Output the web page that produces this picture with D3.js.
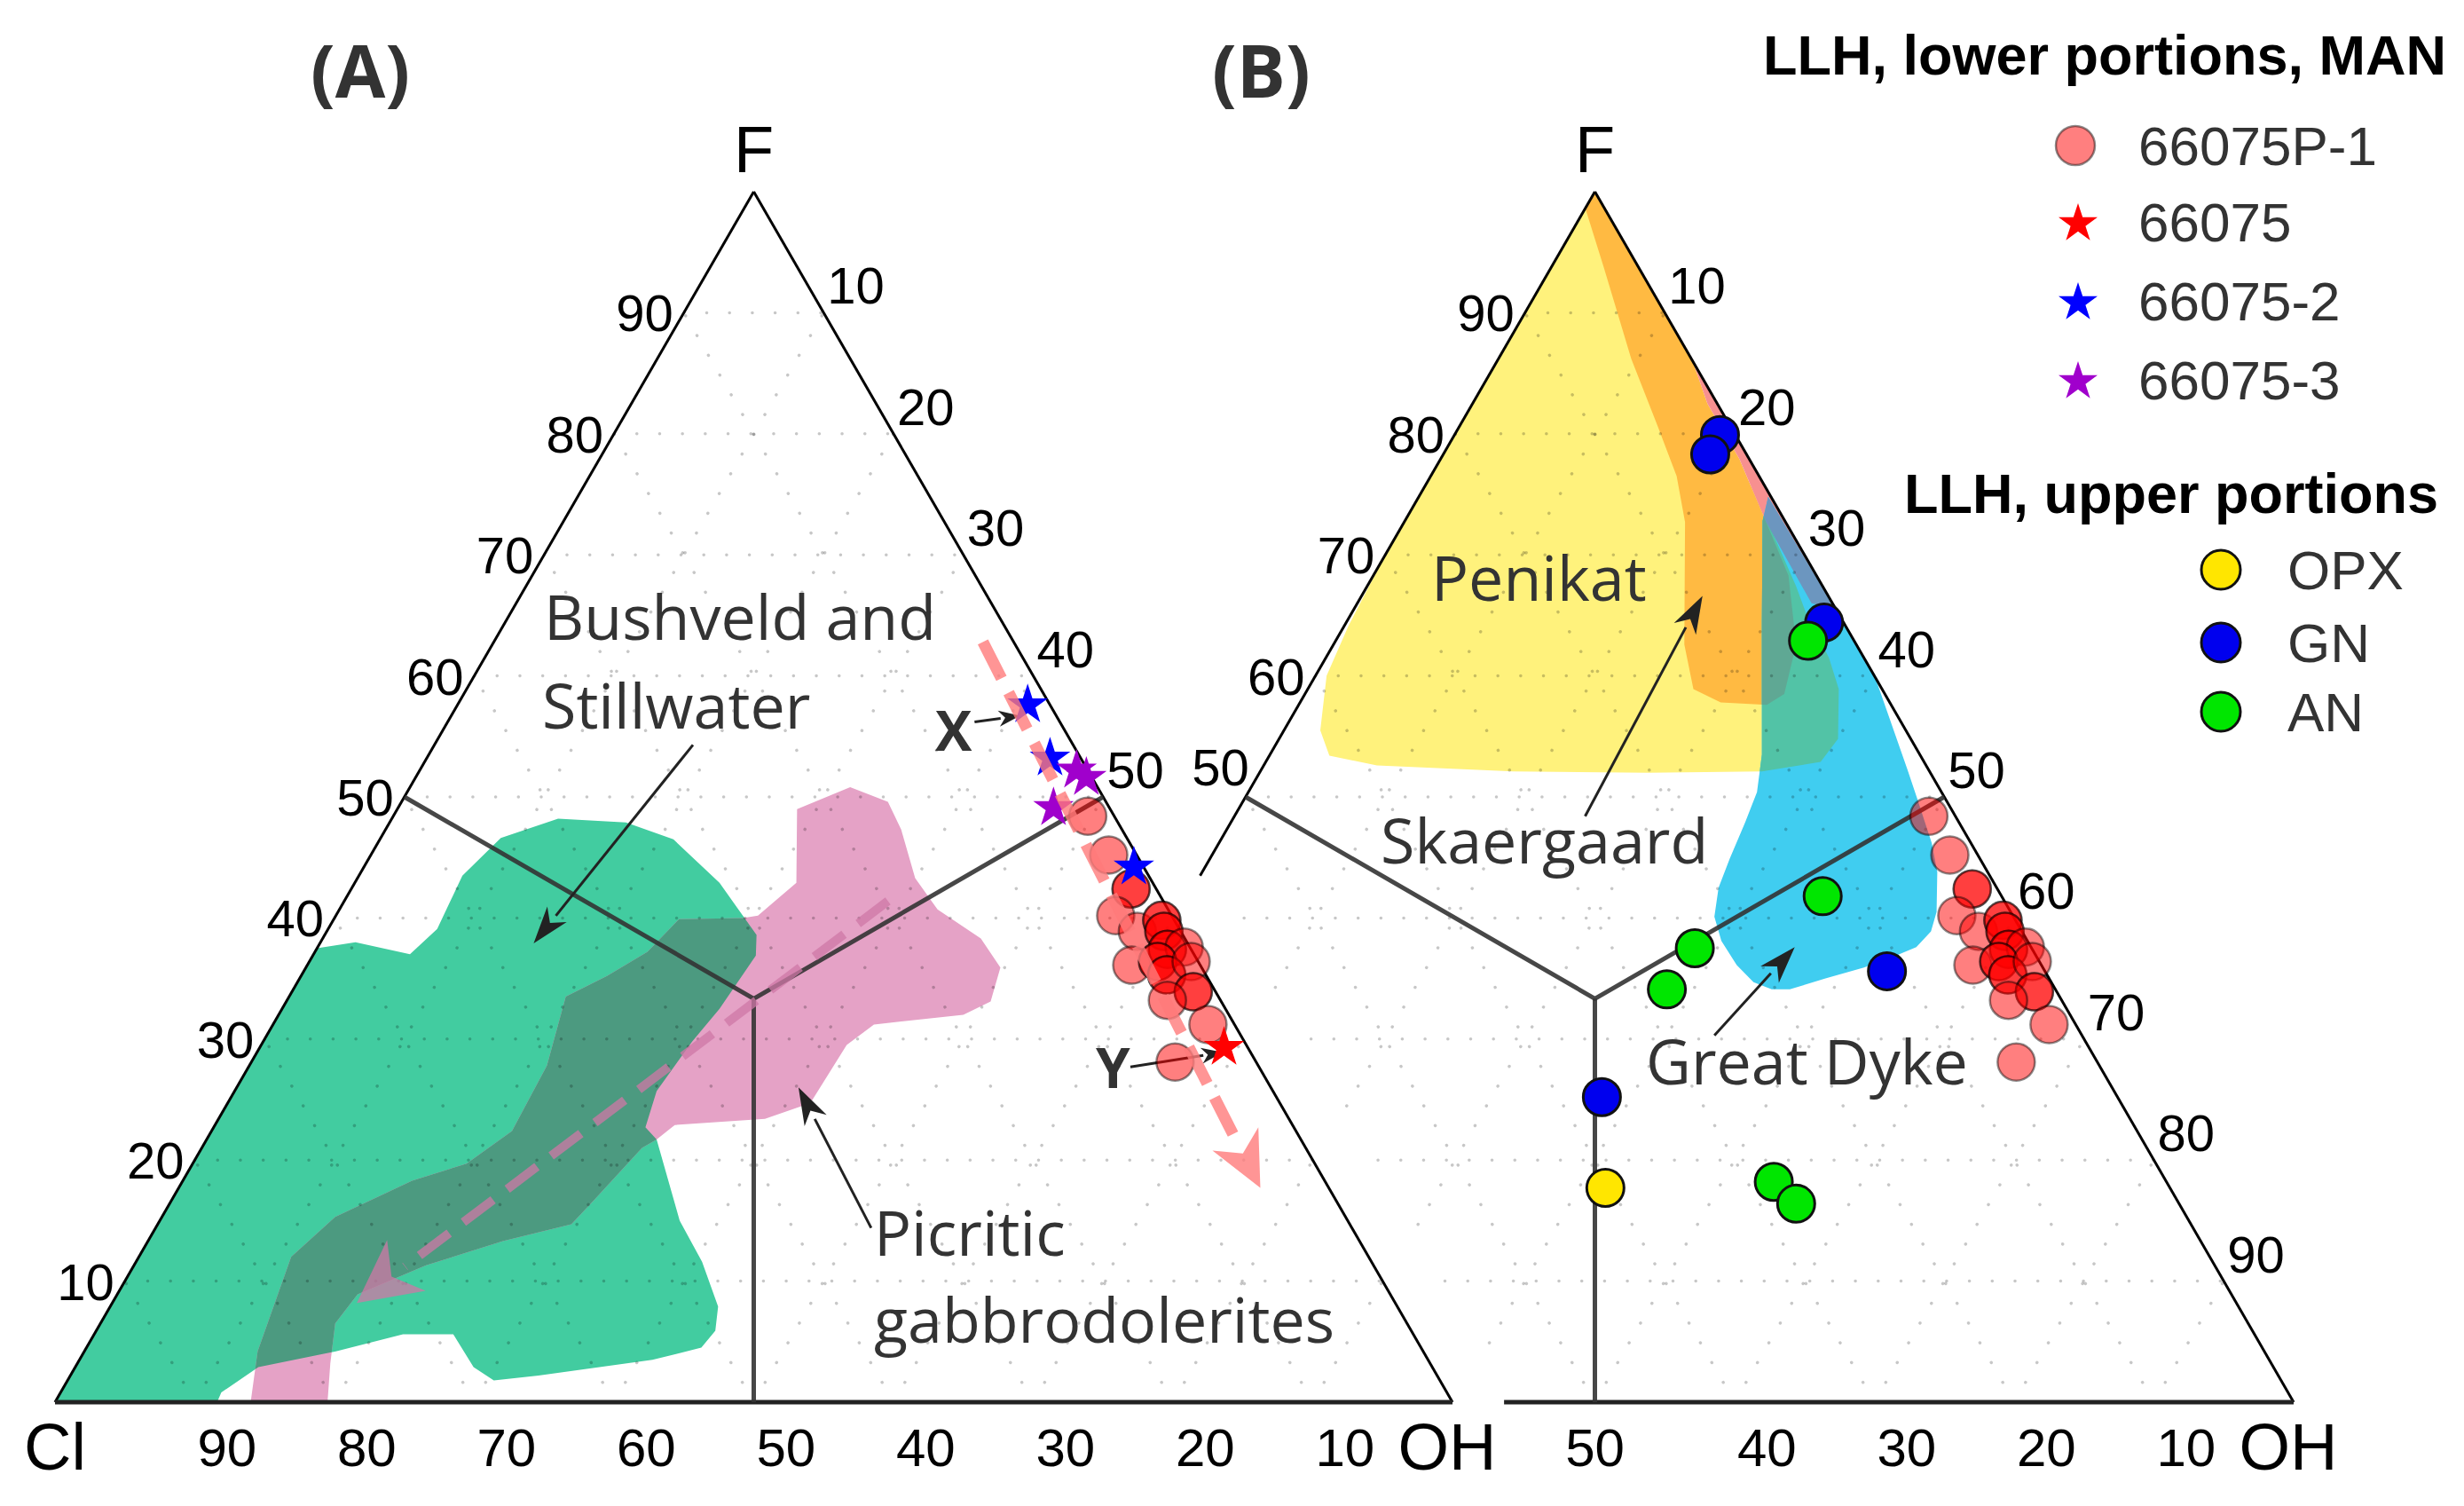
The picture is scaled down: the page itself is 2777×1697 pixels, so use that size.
<!DOCTYPE html>
<html>
<head>
<meta charset="utf-8">
<script src="https://cdn.jsdelivr.net/npm/d3@7"></script>
<style>
body { margin: 0; background: #fff; }
svg { display: block; }
</style>
</head>
<body>
<div id="chart"></div>
<script>
// compositions are [F, OH] in percent, Cl = 100 - F - OH

// tick labels
var edgeTicks = [10, 20, 30, 40, 50, 60, 70, 80, 90];
var aRightTicks = [10, 20, 30, 40, 50];
var bLeftTicks = [90, 80, 70, 60, 50];
var bBottomTicks = [50, 40, 30, 20, 10];

// LLH, lower portions (MAN)
var p66075P1 = [[48.4,49.7],[45.2,52.8],[42.4,55.8],[42.4,55.8],[40.2,55.8],[38.9,58.0],
  [39.8,59.3],[39.8,59.3],[38.9,59.9],[38.9,59.9],[37.4,60.9],[37.4,60.9],[37.6,62.0],
  [36.1,59.0],[36.4,60.7],[36.4,60.7],[35.3,61.9],[35.3,61.9],[36.4,63.1],[33.9,64.5],
  [33.9,64.5],[33.2,63.0],[31.2,66.9],[28.1,66.1]];
var s66075 = [[29.3,69.0]];
var s66075_2 = [[57.6,40.8],[53.2,44.6],[44.2,55.1]];
var s66075_3 = [[52.2,47.0],[51.6,48.0],[49.1,46.9]];

// LLH, upper portions
var gn = [[79.9,19.0],[78.3,19.1],[64.4,34.2],[35.6,53.1],[25.2,37.9]];
var an = [[62.9,33.8],[41.8,45.4],[37.5,38.4],[34.1,38.1],[18.2,53.7],[16.4,56.2]];
var opx = [[17.7,41.9]];

// fields, panel A
var bushveld = [[0,0],[37.5,0],[38.0,2.5],[37.0,6.9],[39.1,7.8],[43.5,7.4],[46.6,8.6],
  [48.2,11.9],[47.9,16.9],[46.5,21.0],[42.9,26.1],[38.6,30.9],[36.9,31.7],[32.5,31.3],
  [29.8,30.7],[25.7,30.2],[22.7,30.9],[21.7,32.2],[15.0,37.2],[11.6,40.5],[7.9,43.5],
  [5.9,44.3],[4.5,44.0],[3.5,41.0],[2.2,33.5],[1.8,30.5],[2.9,28.5],[5.6,25.7],
  [5.6,22.1],[4.2,18.0],[2.9,13.1],[0.8,11.5],[0,11.6]];
var picritic = [[49.0,28.6],[50.8,31.5],[49.6,34.8],[47.3,36.9],[43.3,39.9],[40.7,42.8],
  [38.3,47.1],[35.9,49.7],[33.1,50.4],[32.0,49.0],[31.2,43.0],[29.5,41.9],[27.1,41.8],
  [24.7,41.7],[23.4,39.1],[22.9,32.9],[21.7,32.2],[21.0,31.5],[16.6,30.2],[14.7,29.6],
  [13.3,25.4],[11.3,20.9],[8.9,17.2],[6.5,16.8],[3.2,18.1],[0,19.5],[0,14.0],[4.2,12.4],
  [12.0,10.9],[15.3,12.4],[18.3,16.4],[19.7,19.6],[22.4,21.5],[27.8,21.3],[33.5,19.8],
  [35.2,21.9],[37.2,23.8],[39.9,24.7],[40.0,29.2],[40.2,30.2],[42.9,31.6]];

// fields, panel B
var penikat = [[100,0],[70.1,0],[64.1,0.3],[60.0,0.8],[55.5,2.6],[53.4,4.3],[52.6,8.1],
  [52.1,18.1],[52.0,27.8],[52.1,35.9],[52.9,39.7],[54.8,40.0],[58.9,38.0],[61.5,36.0],
  [65.2,32.5],[67.4,30.7],[75,24],[90,9],[97,3]];
var skaergaard = [[100,0],[98.5,0.1],[93.7,3.8],[86.2,9.5],[80.6,14.2],[76.5,17.6],
  [72.7,20.1],[62.6,25.1],[58.9,27.6],[57.8,30.1],[57.6,33.5],[58.5,34.3],[62.6,33.1],
  [68.3,29.7],[72.7,25.9],[77.9,21.4],[82.5,16.8],[86,14],[96,4]];
var edgeSliver = [[86,14],[65.5,34.5],[66,32.5],[72.7,25.9],[77.9,21.4],[82.5,16.8]];
var greatDyke = [[74.8,25.0],[59.9,40.1],[52.3,46.2],[49.9,48.1],[46.2,51.0],[43.8,52.6],
  [40.5,54.2],[38.9,54.6],[37.6,54.2],[36.9,53.1],[35.9,51.3],[35.0,49.0],[34.1,46.9],
  [34.1,45.6],[34.7,44.0],[36.1,42.1],[38.1,40.0],[40.1,38.5],[42.5,37.6],[44.9,37.2],
  [47.9,36.8],[50.4,36.4],[53.5,35.2],[64.5,29.7],[72.8,25.6]];

// trends and pointers
var redTrend = [[62.8,35.0],[17.7,77.4]];
var pinkTrend = [[41.4,38.9],[8.2,17.5]];
var bushveldPtr = [[54.3,18.5],[37.9,15.3]];
var picriticPtr = [[14.4,51.2],[26.0,40.2]];
var xPtr = [[56.2,37.7],[56.7,40.7]];
var yPtr = [[27.7,63.1],[28.9,69.1]];
var skaerPtr = [[48.4,25.1],[66.6,24.4]];
var dykePtr = [[30.3,43.4],[37.6,45.5]];

var W = 2777, H = 1697;
var side = 1575, triH = side * Math.sqrt(3) / 2;
var bCut = 43.5;   // panel B is cut at Cl = 100 - bCut

var xs = d3.scaleLinear().domain([0, 100]).range([0, side]);
var ys = d3.scaleLinear().domain([0, 100]).range([triH, 0]);
var proj = function(d) { return [xs(d[1] + d[0] / 2), ys(d[0])]; };
var ternLine = d3.line().x(d => proj(d)[0]).y(d => proj(d)[1]);
var ternArea = d3.line().x(d => proj(d)[0]).y(d => proj(d)[1]).curve(d3.curveLinearClosed);

var sansFont = "'Liberation Sans', Arial, sans-serif";
var openFont = "'Open Sans', sans-serif";

var svg = d3.select("#chart").append("svg")
    .attr("width", W).attr("height", H)
    .attr("viewBox", "0 0 " + W + " " + H);

var defs = svg.append("defs");
var addClip = function(id, pts) {
    defs.append("clipPath").attr("id", id).append("path").attr("d", ternArea(pts));
};
addClip("clipA", [[100,0],[0,0],[0,100]]);
addClip("clipB", [[100,0],[bCut,0],[0,bCut],[0,100]]);
addClip("clipBush", bushveld);
addClip("clipPen", penikat);
addClip("clipSkae", skaergaard);
addClip("clipSliver", edgeSliver);

var gA = svg.append("g").attr("transform", "translate(62,216)");
var gB = svg.append("g").attr("transform", "translate(1010,216)");

// fields (overlaps painted with their own colour)
var field = function(g, pts, color, clip) {
    g.append("path").attr("d", ternArea(pts)).attr("fill", color)
        .attr("clip-path", clip ? "url(#" + clip + ")" : null);
};
field(gA, bushveld, "#42cca0");
field(gA, picritic, "#e5a2c6");
field(gA, picritic, "#4c9a80", "clipBush");

field(gB, penikat, "#fff27c");
field(gB, skaergaard, "#ffba42");
field(gB, edgeSliver, "#f79090");
field(gB, greatDyke, "#40cdf0");
field(gB, greatDyke, "#52c3a6", "clipPen");
field(gB, greatDyke, "#5fa894", "clipSkae");
field(gB, greatDyke, "#6c96bf", "clipSliver");

// dotted background grid
var drawGrid = function(g, clip) {
    var gg = g.append("g").attr("clip-path", "url(#" + clip + ")")
        .attr("fill", "none").attr("stroke", "#000").attr("stroke-opacity", 0.22)
        .attr("stroke-width", 3.5)
        .attr("stroke-linecap", "round").attr("stroke-dasharray", "0.1,25.6");
    edgeTicks.forEach(function(v) {
        gg.append("path").attr("d", ternLine([[v,0],[v,100-v]]));
        gg.append("path").attr("d", ternLine([[0,v],[100-v,v]]));
        gg.append("path").attr("d", ternLine([[0,100-v],[100-v,0]]));
    });
};
drawGrid(gA, "clipA");
drawGrid(gB, "clipB");

// frames and field boundaries
var drawFrame = function(g, leftEnd, bottomStart) {
    g.append("path").attr("d", ternLine([[100,0],[leftEnd,0]]))
        .attr("stroke", "#000").attr("stroke-width", 3).attr("fill", "none");
    g.append("path").attr("d", ternLine([[100,0],[0,100]]))
        .attr("stroke", "#000").attr("stroke-width", 3).attr("fill", "none");
    g.append("path").attr("d", ternLine([[0,bottomStart],[0,100]]))
        .attr("stroke", "#222").attr("stroke-width", 5).attr("fill", "none");
    var c = [100/3, 100/3];
    g.append("path").attr("d", ternLine([[50,0], c, [50,50]]))
        .attr("stroke", "#333").attr("stroke-width", 5).attr("fill", "none")
        .attr("stroke-opacity", 0.9);
    g.append("path").attr("d", ternLine([c, [0,50]]))
        .attr("stroke", "#333").attr("stroke-width", 5).attr("fill", "none")
        .attr("stroke-opacity", 0.9);
};
drawFrame(gA, 0, 0);
drawFrame(gB, bCut, bCut);

// arrows
var arrow = function(g, pts, o) {
    var a = proj(pts[0]), b = proj(pts[1]);
    var dx = b[0] - a[0], dy = b[1] - a[1], L = Math.hypot(dx, dy);
    var ux = dx / L, uy = dy / L;
    var bx = b[0] - ux * o.head, by = b[1] - uy * o.head;
    var ag = g.append("g").attr("opacity", o.opacity || 1);
    ag.append("line")
        .attr("x1", a[0]).attr("y1", a[1])
        .attr("x2", bx + ux * 2).attr("y2", by + uy * 2)
        .attr("stroke", o.color).attr("stroke-width", o.width)
        .attr("stroke-dasharray", o.dash || null);
    var hw = o.headW / 2;
    ag.append("path")
        .attr("d", "M" + b[0] + "," + b[1] +
            "L" + (bx - uy * hw) + "," + (by + ux * hw) +
            "L" + (b[0] - ux * o.head * 0.7) + "," + (b[1] - uy * o.head * 0.7) +
            "L" + (bx + uy * hw) + "," + (by - ux * hw) + "Z")
        .attr("fill", o.color);
};
var pointer = {color: "#222", width: 3, head: 42, headW: 28};
arrow(gA, bushveldPtr, pointer);
arrow(gA, picriticPtr, pointer);
arrow(gA, xPtr, {color: "#222", width: 3, head: 24, headW: 18});
arrow(gA, yPtr, {color: "#222", width: 3, head: 24, headW: 18});
arrow(gB, skaerPtr, pointer);
arrow(gB, dykePtr, pointer);

// data points
var salmon = function(g) {
    g.selectAll("circle.p1").data(p66075P1).enter().append("circle")
        .attr("class", "p1")
        .attr("cx", d => proj(d)[0]).attr("cy", d => proj(d)[1]).attr("r", 21)
        .attr("fill", "#ff0000").attr("fill-opacity", 0.5)
        .attr("stroke", "#000").attr("stroke-opacity", 0.45).attr("stroke-width", 2.5);
};
salmon(gA);
salmon(gB);

var starSym = d3.symbol().type(d3.symbolStar).size(650);
var stars = function(g, data, color) {
    g.selectAll(null).data(data).enter().append("path")
        .attr("d", starSym)
        .attr("transform", d => "translate(" + proj(d) + ")")
        .attr("fill", color);
};
stars(gA, s66075_2, "#0000ff");
stars(gA, s66075_3, "#a000cc");
stars(gA, s66075, "#ff0000");

arrow(gA, redTrend, {color: "#ff7b7b", width: 13, head: 62, headW: 58, dash: "46,18", opacity: 0.8});
arrow(gA, pinkTrend, {color: "#cf78a6", width: 10, head: 70, headW: 72, dash: "42,20", opacity: 0.75});

var dots = function(g, data, color) {
    g.selectAll(null).data(data).enter().append("circle")
        .attr("cx", d => proj(d)[0]).attr("cy", d => proj(d)[1]).attr("r", 21)
        .attr("fill", color).attr("stroke", "#111").attr("stroke-width", 3);
};
dots(gB, gn, "#0000ee");
dots(gB, an, "#00e600");
dots(gB, opx, "#ffe600");

// tick labels
var tickText = function(g, x, y, t, anchor, size) {
    g.append("text").attr("x", x).attr("y", y).text(t)
        .attr("text-anchor", anchor).attr("font-family", sansFont)
        .attr("font-size", size || 58).attr("fill", "#000");
};
edgeTicks.forEach(function(v) {
    var p = proj([v, 0]);
    tickText(gA, p[0] - 12, p[1] + 21, v, "end");
    p = proj([100 - v, v]);
    if (aRightTicks.indexOf(v) >= 0) tickText(gA, p[0] + 4, p[1] - 10, v, "start");
    tickText(gB, p[0] + 4, p[1] - 10, v, "start");
    p = proj([0, 100 - v]);
    tickText(gA, p[0] + 3, triH + 72, v, "start", 60);
});
bLeftTicks.forEach(function(v) {
    var p = proj([v, 0]);
    if (v === 50) tickText(gB, p[0] + 4, p[1] - 13, v, "end");
    else tickText(gB, p[0] - 12, p[1] + 21, v, "end");
});
bBottomTicks.forEach(function(v) {
    var p = proj([0, 100 - v]);
    if (v === 50) tickText(gB, p[0], triH + 72, v, "middle", 60);
    else tickText(gB, p[0] + 3, triH + 72, v, "start", 60);
});

// apex labels
var apex = function(g, d, t, dy) {
    var p = proj(d);
    g.append("text").attr("x", p[0] + (d[1] === 100 ? -6 : 0)).attr("y", p[1] + dy).text(t)
        .attr("text-anchor", "middle").attr("font-family", sansFont)
        .attr("font-size", 74).attr("fill", "#000");
};
apex(gA, [100, 0], "F", -22);
apex(gA, [0, 0], "Cl", 76);
apex(gA, [0, 100], "OH", 76);
apex(gB, [100, 0], "F", -22);
apex(gB, [0, 100], "OH", 76);

// panel and field labels
var label = function(x, y, t, size, weight, family) {
    svg.append("text").attr("x", x).attr("y", y).text(t)
        .attr("font-family", family || openFont).attr("font-size", size)
        .attr("font-weight", weight || "normal").attr("fill", "#333");
};
label(350, 110, "(A)", 82, "bold");
label(1366, 110, "(B)", 82, "bold");
label(613, 721, "Bushveld and", 70);
label(611, 821, "Stillwater", 70);
label(985, 1415, "Picritic", 70);
label(985, 1513, "gabbrodolerites", 70);
label(1613, 677, "Penikat", 70);
label(1556, 973, "Skaergaard", 70);
label(1855, 1222, "Great Dyke", 70);
label(1054, 846, "X", 62, "bold");
label(1235, 1226, "Y", 62, "bold");

// legend
var lg = svg.append("g").attr("font-family", sansFont);
lg.append("text").attr("x", 2757).attr("y", 84).attr("text-anchor", "end")
    .attr("font-size", 63).attr("font-weight", "bold").attr("fill", "#000")
    .text("LLH, lower portions, MAN");
lg.append("text").attr("x", 2748).attr("y", 578).attr("text-anchor", "end")
    .attr("font-size", 63).attr("font-weight", "bold").attr("fill", "#000")
    .text("LLH, upper portions");

var lowerKeys = ["66075P-1", "66075", "66075-2", "66075-3"];
var lowerColors = ["#ff0000", "#ff0000", "#0000ff", "#a000cc"];
var lowerY = [164, 250, 339, 428];
lowerKeys.forEach(function(k, i) {
    if (i === 0) {
        lg.append("circle").attr("cx", 2339).attr("cy", lowerY[i]).attr("r", 22)
            .attr("fill", "#ff0000").attr("fill-opacity", 0.5)
            .attr("stroke", "#000").attr("stroke-opacity", 0.45).attr("stroke-width", 2.5);
    } else {
        lg.append("path").attr("d", d3.symbol().type(d3.symbolStar).size(600))
            .attr("transform", "translate(2342," + (lowerY[i] + 2) + ")")
            .attr("fill", lowerColors[i]);
    }
    lg.append("text").attr("x", 2410).attr("y", lowerY[i] + 22).text(k)
        .attr("font-size", 62).attr("fill", "#333");
});

var upperKeys = ["OPX", "GN", "AN"];
var upperColors = ["#ffe600", "#0000ee", "#00e600"];
var upperY = [642, 724, 802];
upperKeys.forEach(function(k, i) {
    lg.append("circle").attr("cx", 2503).attr("cy", upperY[i]).attr("r", 22)
        .attr("fill", upperColors[i]).attr("stroke", "#111").attr("stroke-width", 3);
    lg.append("text").attr("x", 2578).attr("y", upperY[i] + 22).text(k)
        .attr("font-size", 62).attr("fill", "#333");
});
</script>
</body>
</html>
